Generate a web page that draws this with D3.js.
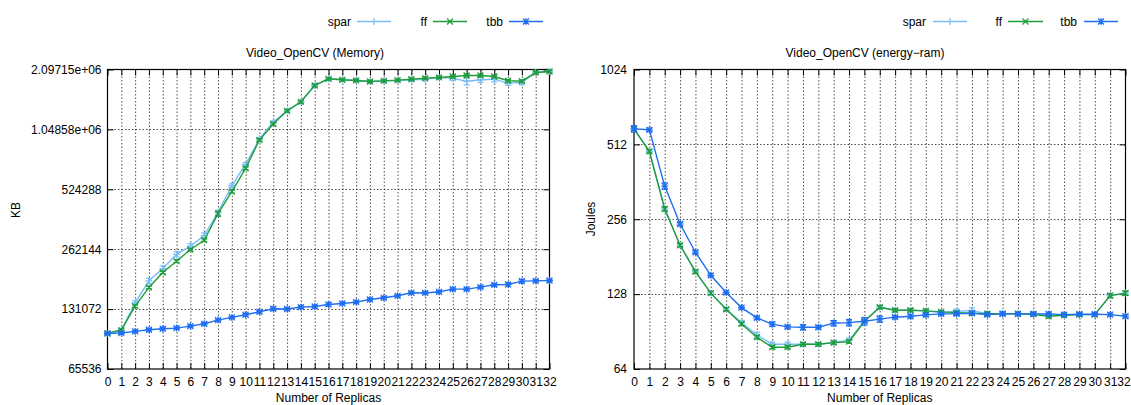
<!DOCTYPE html>
<html><head><meta charset="utf-8">
<script src="https://cdn.jsdelivr.net/npm/d3@7"></script>
<style>
body{margin:0;background:#fff}
svg text{font-family:"Liberation Sans",Arial,sans-serif;font-size:12px;fill:#000}
</style>
</head><body>
<svg id="chart" width="1131" height="405"></svg>
<script>
// ---------- data ----------
const replicas = [0,1,2,3,4,5,6,7,8,9,10,11,12,13,14,15,16,17,18,19,20,21,22,23,24,25,26,27,28,29,30,31,32];
const seriesNames = ["spar","ff","tbb"];

// Memory (KB)
const memSpar = [98970,102850,141000,181800,209700,247500,271400,307000,401900,547200,700000,940000,1141000,1300500,1443000,1742900,1882400,1861500,1847800,1825600,1839000,1845000,1862000,1874600,1912500,1897000,1826000,1862000,1874600,1791000,1804500,2025800,2049600];
const memFF   = [98970,102850,135700,168400,200200,228200,261100,290900,395700,510300,668400,927000,1115800,1300500,1443000,1742900,1882400,1861500,1847800,1825600,1839000,1853600,1874600,1897000,1912500,1934000,1956700,1956700,1934000,1841000,1832000,2025800,2049600];
const memTbb  = [98970,99340,101280,103200,104400,105200,107700,110600,115400,119100,122800,127100,131600,131200,134100,135100,138300,139900,142100,146500,149400,152900,158300,158000,160100,165100,165100,169000,173600,174300,181100,181800,182500];
const memSparErrPct = [1.5,1.5,2.5,3,3,3,3,3,2,2,2,1.5,1.5,1.5,1.5,1.5,1.5,1.5,1.5,1.5,1.5,1.5,2,2,2,2.5,4,3,3,2.5,2.5,1.5,1.5];
const memFFErrPct   = [1.5,1.5,1.5,1.5,1.5,1.5,1.5,1.5,3,1.5,1.5,1.5,1.5,1.5,1.5,1.5,1.5,1.5,1.5,1.5,1.5,1.5,1.5,1.5,1.5,1.5,1.5,1.5,1.5,1.5,1.5,1.5,1.5];
const memTbbErrPct  = [1.5,1.5,1.5,1.5,1.5,1.5,1.5,1.5,1.5,1.5,1.5,1.5,2,1.5,1.5,1.5,2,1.5,1.5,1.5,1.5,1.5,1.5,1.5,1.5,1.5,1.5,1.5,1.5,2,2,1.5,1.5];
const memTicks = [65536,131072,262144,524288,1048576,2097152];
const memTickLabels = ["65536","131072","262144","524288","1.04858e+06","2.09715e+06"];

// Energy-RAM (Joules)
const ramSpar = [591,480,281.7,201.2,157.7,129.2,111.3,98.3,87.7,80.5,80.5,80.5,80.5,81.7,83.6,99.6,113.4,110.3,110.3,109.6,107.9,109.3,109.9,106.9,106.9,106.6,106.3,105.5,105.3,105.9,105.9,126.3,129.2];
const ramFF   = [591,480,281.7,201.2,157.7,129.2,111.3,97.1,85.9,78.3,78.3,80.5,80.5,81.7,82.4,99.6,113.4,110.3,110.3,109.6,108.6,107.9,107.3,106.9,106.9,106.6,106.3,104.3,105.3,105.9,105.9,126.3,129.2];
const ramTbb  = [591,586,348,245,188.6,152.4,129.9,113,102.7,96.9,94.5,94.2,94.2,97.8,98.3,99.6,101.6,103.4,104.3,105.6,106.6,106.6,107.3,105.9,106.6,106.6,106.6,106.6,105.9,106.3,106.3,105.9,104.3];
const ramSparErrPct = [1.5,1.5,1.5,1.5,1.5,1.5,1.5,2,2.5,2,2,1.5,1.5,1.5,2,1.5,1.5,1.5,1.5,1.5,1.5,2,2.5,1.5,1.5,1.5,1.5,1.5,1.5,1.5,1.5,1.5,1.5];
const ramFFErrPct   = [1.5,1.5,2,1.5,1.5,1.5,1.5,1.5,1.5,1.5,1.5,1.5,1.5,1.5,1.5,1.5,1.5,1.5,1.5,1.5,1.5,1.5,1.5,1.5,1.5,1.5,1.5,1.5,1.5,1.5,1.5,2,2];
const ramTbbErrPct  = [3,1.5,3,1.5,1.5,1.5,1.5,1.5,1.5,2,1.5,2.5,1.5,2.5,3,3.5,3,1.5,1.5,1.5,1.5,1.5,1.5,1.5,1.5,1.5,1.5,1.5,1.5,1.5,1.5,1.5,1.5];
const ramTicks = [64,128,256,512,1024];
const ramTickLabels = ["64","128","256","512","1024"];

// ---------- style ----------
const colors = {spar:"#78bdf7", ff:"#1e9e3a", tbb:"#1f6ef2"};
const markers = {spar:"plus", ff:"cross", tbb:"star"};

const svg = d3.select("#chart");

function markerPath(type, cx, cy, r){
  const p = d3.path();
  if(type==="plus"||type==="star"){ p.moveTo(cx-r,cy); p.lineTo(cx+r,cy); p.moveTo(cx,cy-r); p.lineTo(cx,cy+r); }
  if(type==="cross"||type==="star"){ const q=r*0.85; p.moveTo(cx-q,cy-q); p.lineTo(cx+q,cy+q); p.moveTo(cx-q,cy+q); p.lineTo(cx+q,cy-q); }
  return p.toString();
}

function drawPanel(cfg){
  const g = svg.append("g");
  const x = d3.scaleLinear().domain([0,32]).range([cfg.x0,cfg.x1]);
  const y = d3.scaleLog().base(2).domain([cfg.ticks[0], cfg.ticks[cfg.ticks.length-1]]).range([cfg.yB,cfg.yT]);

  // grid
  const grid = g.append("g").attr("stroke","#222").attr("stroke-width",0.8).attr("stroke-dasharray","1.5,2");
  grid.selectAll("line.v").data(replicas.slice(1,-1)).join("line")
    .attr("x1",d=>x(d)+0.5).attr("x2",d=>x(d)+0.5).attr("y1",cfg.yT).attr("y2",cfg.yB);
  grid.selectAll("line.h").data(cfg.ticks.slice(1,-1)).join("line").attr("class","h")
    .attr("y1",d=>Math.round(y(d))+0.5).attr("y2",d=>Math.round(y(d))+0.5).attr("x1",cfg.x0).attr("x2",cfg.x1);

  // axes
  const ax = g.append("g").attr("transform",`translate(0,${cfg.yB})`)
    .call(d3.axisBottom(x).tickValues(replicas).tickFormat(d3.format("d")).tickSize(-6).tickPadding(8));
  const axT = g.append("g").attr("transform",`translate(0,${cfg.yT})`)
    .call(d3.axisTop(x).tickValues(replicas).tickFormat("").tickSize(-6));
  const ay = g.append("g").attr("transform",`translate(${cfg.x0},0)`)
    .call(d3.axisLeft(y).tickValues(cfg.ticks).tickFormat((d,i)=>cfg.labels[i]).tickSize(-6).tickPadding(cfg.ypad));
  const ayR = g.append("g").attr("transform",`translate(${cfg.x1},0)`)
    .call(d3.axisRight(y).tickValues(cfg.ticks).tickFormat("").tickSize(-6));
  [ax,axT,ay,ayR].forEach(a=>{a.select(".domain").remove(); a.selectAll("line").attr("stroke","#000"); a.selectAll("text").attr("font-size",12).attr("font-family","Liberation Sans, Arial, sans-serif").attr("fill","#000");});
  // keep the last x label inside the page
  if(cfg.lastLabelShift){ ax.selectAll(".tick").filter(d=>d===32).select("text").attr("dx",cfg.lastLabelShift); }

  // border
  g.append("rect").attr("x",cfg.x0).attr("y",cfg.yT).attr("width",cfg.x1-cfg.x0).attr("height",cfg.yB-cfg.yT)
    .attr("fill","none").attr("stroke","#000").attr("stroke-width",1.2);

  // series
  cfg.series.forEach(s=>{
    const col = colors[s.name];
    const sg = g.append("g");
    sg.append("path").datum(s.values)
      .attr("d", d3.line().x((d,i)=>x(replicas[i])).y(d=>y(d)))
      .attr("fill","none").attr("stroke",col).attr("stroke-width",1.4);
    // error bars
    const eb = sg.append("g").attr("stroke",col).attr("stroke-width",1.2);
    s.values.forEach((v,i)=>{
      const cx = x(replicas[i]);
      const lo = y(v*(1-s.err[i]/100)), hi = y(v*(1+s.err[i]/100));
      eb.append("line").attr("x1",cx).attr("x2",cx).attr("y1",lo).attr("y2",hi);
      eb.append("line").attr("x1",cx-3).attr("x2",cx+3).attr("y1",lo).attr("y2",lo);
      eb.append("line").attr("x1",cx-3).attr("x2",cx+3).attr("y1",hi).attr("y2",hi);
    });
    sg.append("path").attr("d", s.values.map((v,i)=>markerPath(markers[s.name], x(replicas[i]), y(v), 3.5)).join(""))
      .attr("fill","none").attr("stroke",col).attr("stroke-width",1.2);
  });

  // titles
  g.append("text").attr("x",cfg.titleX).attr("y",cfg.yT-13).attr("text-anchor","middle").text(cfg.title);
  g.append("text").attr("x",(cfg.x0+cfg.x1)/2).attr("y",402).attr("text-anchor","middle").text("Number of Replicas");
  g.append("text").attr("transform",`translate(${cfg.ylabX},${cfg.ylabY}) rotate(-90)`).attr("text-anchor","middle").text(cfg.ylabel);

  // legend
  cfg.legend.forEach((L,k)=>{
    const name = seriesNames[k], col = colors[name];
    g.append("text").attr("x",L.tx).attr("y",25.5).attr("text-anchor","end").text(name);
    g.append("line").attr("x1",L.l0).attr("x2",L.l1).attr("y1",21.5).attr("y2",21.5).attr("stroke",col).attr("stroke-width",1.4);
    g.append("path").attr("d",markerPath(markers[name],(L.l0+L.l1)/2,21.5,3.5)).attr("fill","none").attr("stroke",col).attr("stroke-width",1.2);
  });
}

drawPanel({
  x0:107.5, x1:549.5, yT:69.5, yB:369, ypad:6,
  ticks:memTicks, labels:memTickLabels,
  title:"Video_OpenCV (Memory)", titleX:315,
  ylabel:"KB", ylabX:20, ylabY:210,
  series:[{name:"spar",values:memSpar,err:memSparErrPct},{name:"ff",values:memFF,err:memFFErrPct},{name:"tbb",values:memTbb,err:memTbbErrPct}],
  legend:[{tx:351,l0:357,l1:391},{tx:427,l0:433,l1:467},{tx:503,l0:509,l1:543}]
});
drawPanel({
  x0:634, x1:1125.5, yT:69.5, yB:369, ypad:7, lastLabelShift:-2,
  ticks:ramTicks, labels:ramTickLabels,
  title:"Video_OpenCV (energy\u2212ram)", titleX:865,
  ylabel:"Joules", ylabX:595, ylabY:219,
  series:[{name:"spar",values:ramSpar,err:ramSparErrPct},{name:"ff",values:ramFF,err:ramFFErrPct},{name:"tbb",values:ramTbb,err:ramTbbErrPct}],
  legend:[{tx:926,l0:933,l1:967},{tx:1002,l0:1008,l1:1043},{tx:1077,l0:1084,l1:1118}]
});
</script>
</body></html>
